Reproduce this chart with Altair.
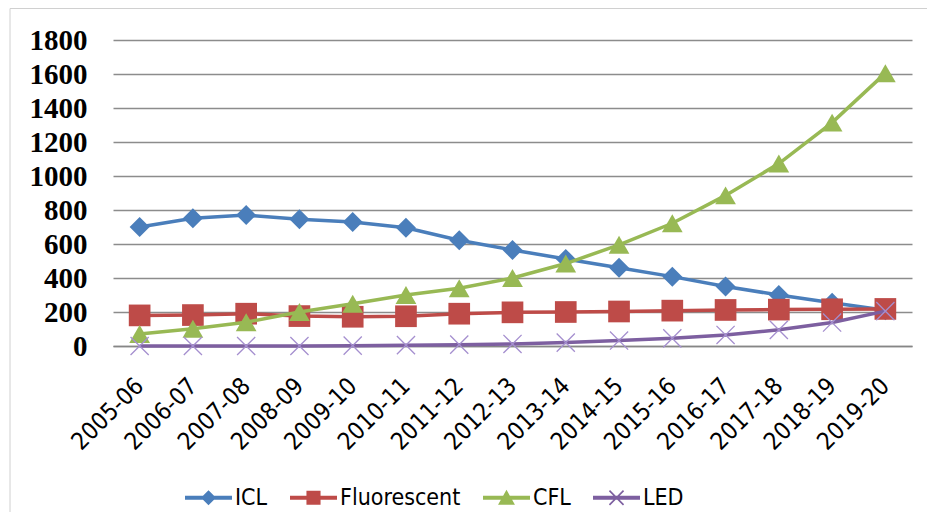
import altair as alt
import pandas as pd

years = ["2005-06", "2006-07", "2007-08", "2008-09", "2009-10", "2010-11", "2011-12",
         "2012-13", "2013-14", "2014-15", "2015-16", "2016-17", "2017-18", "2018-19", "2019-20"]
icl = [700, 752, 770, 745, 730, 695, 622, 565, 512, 460, 408, 350, 300, 255, 210]
fluorescent = [180, 182, 190, 176, 172, 175, 190, 198, 200, 203, 208, 212, 214, 216, 218]
cfl = [70, 102, 140, 200, 248, 300, 340, 400, 485, 595, 722, 886, 1073, 1314, 1605]
led = [0, 0, 0, 0, 2, 5, 8, 12, 20, 32, 45, 65, 95, 138, 205]

series_names = ["ICL", "Fluorescent", "CFL", "LED"]
series_values = [icl, fluorescent, cfl, led]
colors = ["#4a7ebb", "#be4b48", "#98b954", "#7d5fa0"]
led_marker_color = "#a58fcf"

rows = []
for name, vals in zip(series_names, series_values):
    for yr, v in zip(years, vals):
        rows.append({"year": yr, "series": name, "value": v})
df = pd.DataFrame(rows)

x_path = "M-1,-1L1,1M1,-1L-1,1"
marker_shapes = ["diamond", "square", "triangle-up", x_path]
marker_sizes = [400, 470, 430, 330]

# legend symbols: thick line + marker, all as filled paths
line_part = "M-1,-0.085L1,-0.085L1,0.085L-1,0.085Z"
legend_paths = [
    line_part + " M0,-0.32L0.32,0L0,0.32L-0.32,0Z",
    line_part + " M-0.3,-0.3L0.3,-0.3L0.3,0.3L-0.3,0.3Z",
    line_part + " M0,-0.34L0.36,0.3L-0.36,0.3Z",
    line_part + " M-0.275,-0.325L0.325,0.275L0.275,0.325L-0.325,-0.275Z"
    " M0.325,-0.275L-0.275,0.325L-0.325,0.275L0.275,-0.325Z",
]

sans = "Liberation Sans Narrow, DejaVu Sans Condensed, Open Sans, sans-serif"
serif = "Liberation Serif, DejaVu Serif, serif"

x_enc = alt.X(
    "year:N", sort=years, title=None,
    scale=alt.Scale(type="point", padding=0.5),
    axis=alt.Axis(labelAngle=-45, labelAlign="right", labelBaseline="middle",
                  labelFont=sans, labelFontSize=24, labelColor="#000000",
                  labelPadding=36, ticks=False, tickSize=0, grid=False,
                  domainColor="#868686", domainWidth=1.5, labelOverlap=False),
)
y_enc = alt.Y(
    "value:Q", title=None,
    scale=alt.Scale(domain=[0, 1800], nice=False, zero=True),
    axis=alt.Axis(values=list(range(0, 1801, 200)), format="d", labelFont=serif,
                  labelFontSize=29, labelFontWeight="bold", labelColor="#000000",
                  labelPadding=26, ticks=False, tickSize=0, domain=False,
                  grid=True, gridColor="#8c8c8c", gridWidth=1.5),
)
color_scale = alt.Scale(domain=series_names, range=colors)

base = alt.Chart(df).encode(x=x_enc, y=y_enc)

layers = []
for name, col, shape, size in zip(series_names, colors, marker_shapes, marker_sizes):
    sub = base.transform_filter(alt.datum.series == name)
    layers.append(sub.mark_line(strokeWidth=3.5, color=col))
    if name == "LED":
        layers.append(sub.mark_point(filled=False, shape=shape, size=size, opacity=1,
                                     strokeWidth=1.3, color=led_marker_color))
    else:
        layers.append(sub.mark_point(filled=True, shape=shape, size=size, opacity=1, color=col))

legend = alt.Legend(title=None, orient="none", legendX=72, legendY=434, direction="horizontal",
                    symbolSize=2209, symbolStrokeWidth=0, symbolOpacity=1,
                    labelFont=sans, labelFontSize=23,
                    labelColor="#000000", labelOffset=3, columnPadding=22, padding=0,
                    labelLimit=300)
legend_layer = base.mark_point(filled=True, opacity=0).encode(
    color=alt.Color("series:N", scale=color_scale, legend=legend),
    shape=alt.Shape("series:N", scale=alt.Scale(domain=series_names, range=legend_paths),
                    legend=legend),
)

frame = alt.Chart(pd.DataFrame({"a": [0]})).mark_rect(
    fillOpacity=0, stroke="#d0d0d0", strokeWidth=1, clip=False
).encode(x=alt.value(-103), x2=alt.value(830), y=alt.value(-31.5), y2=alt.value(490))

chart = alt.layer(frame, *layers, legend_layer).properties(
    width=799, height=306,
    autosize=alt.AutoSizeParams(type="none"),
    padding={"left": 105, "top": 32, "right": 15, "bottom": 166},
).configure_view(stroke=None)

chart.save("out.html", embed_options={"renderer": "svg", "actions": False})
